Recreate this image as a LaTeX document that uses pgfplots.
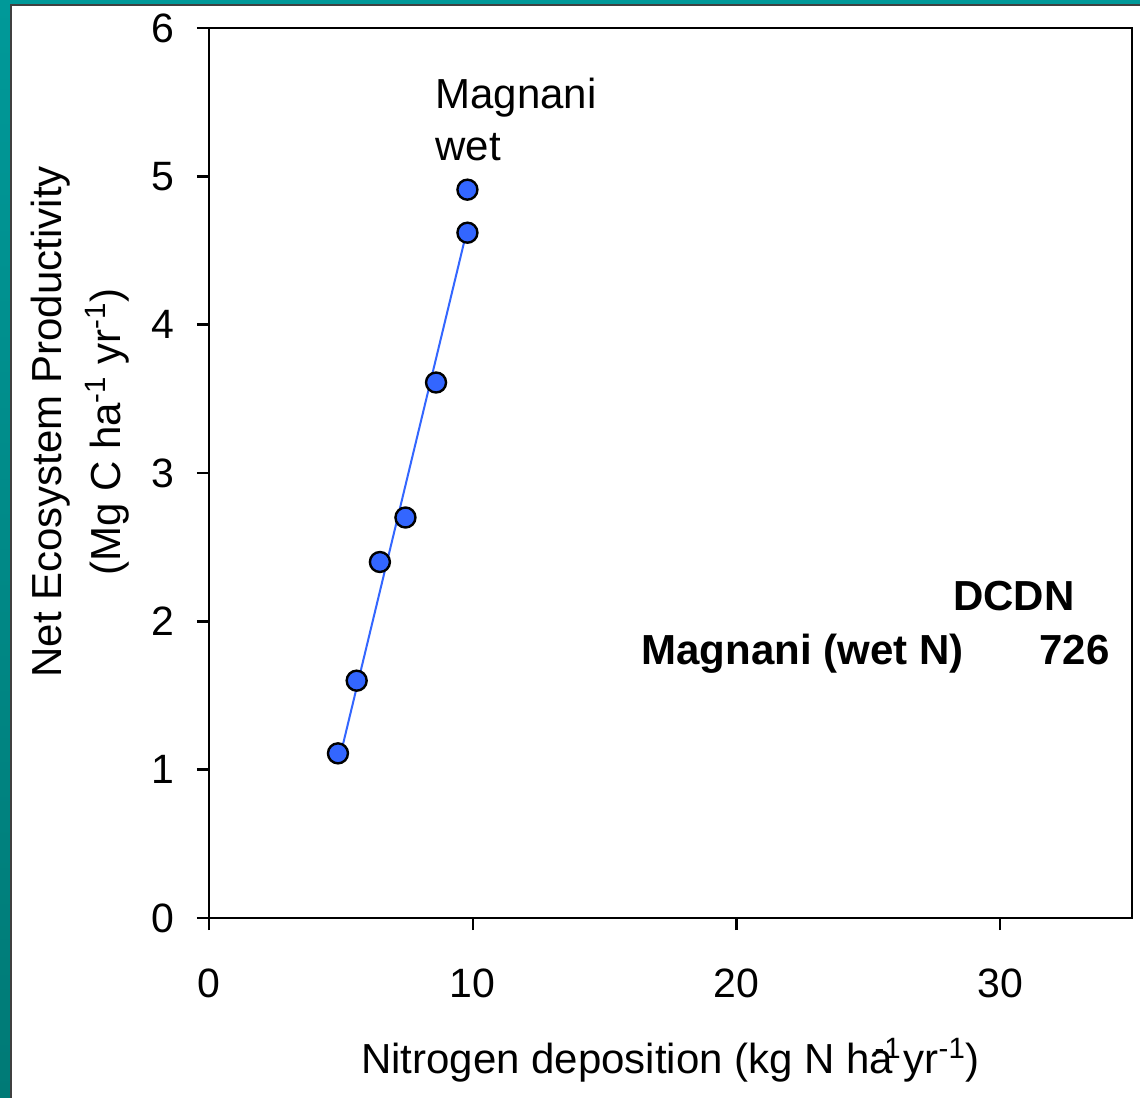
\documentclass[border=0pt]{standalone}
\usepackage{fontspec}
\setmainfont{Liberation Sans}
\usepackage{pgfplots}
\pgfplotsset{compat=1.18}

\definecolor{tealtop}{RGB}{0,153,153}
\definecolor{tealbot}{RGB}{0,122,118}
\definecolor{ptblue}{RGB}{51,102,255}

\newcommand{\slidefont}{\fontsize{21bp}{26bp}\selectfont}

\begin{document}
\begin{tikzpicture}
\useasboundingbox (-104.5bp,-90bp) rectangle (465.5bp,459bp);
% slide background
\shade[top color=tealtop,bottom color=tealbot] (-104.5bp,-90bp) rectangle (465.5bp,459bp);
\fill[white,draw=black!75,line width=0.8bp] (-99bp,-100bp) rectangle (480bp,456.5bp);

\begin{axis}[%
at={(0,0)},
anchor=south west,
width=461.5bp,
height=445bp,
scale only axis,
xmin=0,
xmax=35,
ymin=0,
ymax=6,
xtick={0,10,20,30},
ytick={0,1,2,3,4,5,6},
tick pos=left,
tick align=outside,
major tick length=6bp,
axis line style={line width=1.2bp},
tick style={line width=1.2bp,black},
ticklabel style={font=\fontsize{20.5bp}{24bp}\selectfont,inner sep=0pt},
/pgf/number format/assume math mode=true,
xticklabel shift=19bp,
yticklabel shift=11bp,
clip=false
]
% fitted line
\addplot [
color=ptblue,
solid,
line width=1bp,
forget plot
]
table[row sep=crcr]{
5.08 1.17\\
9.72 4.59\\
};
% Magnani wet N
\addplot [
only marks,
mark=*,
mark size=5bp,
mark options={solid,fill=ptblue,draw=black,line width=1.2bp},
forget plot
]
table[row sep=crcr]{
4.89 1.11\\
5.60 1.60\\
6.48 2.40\\
7.45 2.70\\
8.61 3.61\\
9.80 4.62\\
9.80 4.91\\
};

\node[anchor=base west,inner sep=0pt,font=\slidefont] at (axis cs:8.57,5.46) {Magnani};
\node[anchor=base west,inner sep=0pt,font=\slidefont] at (axis cs:8.57,5.11) {wet};
\node[anchor=base east,inner sep=0pt,font=\slidefont\bfseries] at (axis cs:32.84,2.07) {DCDN};
\node[anchor=base west,inner sep=0pt,font=\slidefont\bfseries] at (axis cs:16.38,1.71) {Magnani (wet N)};
\node[anchor=base east,inner sep=0pt,font=\slidefont\bfseries] at (axis cs:34.17,1.71) {726};

\node[anchor=base,inner sep=0pt,font=\slidefont,rotate=90] at (axis cs:-5.61,3.345) {Net Ecosystem Productivity};
\node[anchor=base,inner sep=0pt,font=\slidefont,rotate=90] at (axis cs:-3.34,3.277) {(Mg C ha\textsuperscript{-1} yr\textsuperscript{-1})};
\node[anchor=base,inner sep=0pt,font=\slidefont] at (axis cs:17.5,-1.05) {Nitrogen deposition (kg N ha\hspace{-0.45em}\textsuperscript{-1}\hspace{0.05em}yr\textsuperscript{-1})};
\end{axis}
\end{tikzpicture}
\end{document}
